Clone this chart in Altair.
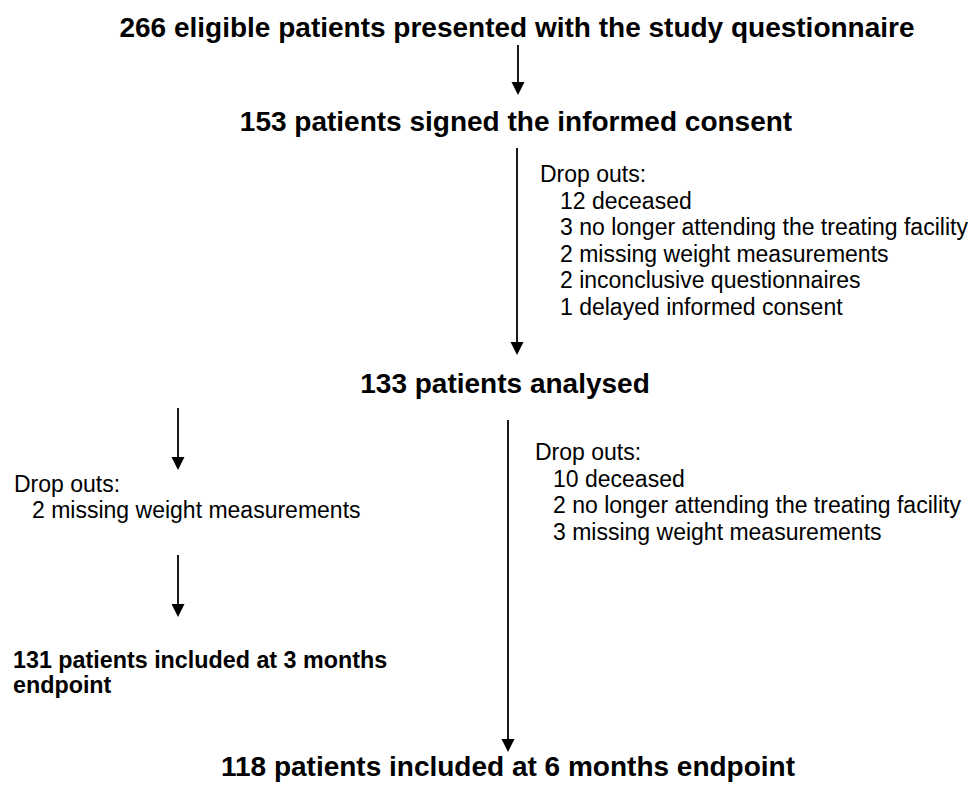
import altair as alt
import pandas as pd

# ---- content ----
headings = [
    "266 eligible patients presented with the study questionnaire",
    "153 patients signed the informed consent",
    "133 patients analysed",
    "118 patients included at 6 months endpoint",
]
left_heading = ["131 patients included at 3 months", "endpoint"]
dropout_label = "Drop outs:"
dropouts_consent = [
    "12 deceased",
    "3 no longer attending the treating facility",
    "2 missing weight measurements",
    "2 inconclusive questionnaires",
    "1 delayed informed consent",
]
dropouts_3m = ["2 missing weight measurements"]
dropouts_6m = [
    "10 deceased",
    "2 no longer attending the treating facility",
    "3 missing weight measurements",
]

# ---- layout (image pixel coordinates) ----
heading_pos = [(517, 37), (516, 131), (505, 393), (508, 776)]
left_heading_pos = (13, [668, 693])
# (label x, item x, first baseline, line step)
block_layout = [
    (dropouts_consent, 540, 560, 182, 26.6),
    (dropouts_3m, 14, 32, 492, 26.0),
    (dropouts_6m, 535, 553, 460, 26.7),
]
# (x, y start, y tip)
arrows = [(518, 45, 95), (517, 148, 355), (178, 408, 470), (178, 555, 617), (508, 420, 752)]
HEAD = 13

head_df = pd.DataFrame({
    "text": headings,
    "x": [p[0] for p in heading_pos],
    "y": [p[1] for p in heading_pos],
})
lh_df = pd.DataFrame({
    "text": left_heading,
    "x": [left_heading_pos[0]] * len(left_heading),
    "y": left_heading_pos[1],
})
rows = []
for items, lx, ix, y0, step in block_layout:
    rows.append({"text": dropout_label, "x": lx, "y": y0})
    for i, t in enumerate(items):
        rows.append({"text": t, "x": ix, "y": y0 + step * (i + 1)})
drop_df = pd.DataFrame(rows)

shaft_df = pd.DataFrame({
    "x": [a[0] for a in arrows],
    "y": [a[1] for a in arrows],
    "y2": [a[2] - HEAD + 1 for a in arrows],
})
tip_df = pd.DataFrame({
    "x": [a[0] for a in arrows],
    "y": [a[2] - HEAD / 2 for a in arrows],
})

xs = alt.Scale(domain=[8, 968], nice=False, zero=False)
ys = alt.Scale(domain=[8, 782], nice=False, zero=False, reverse=True)
X = alt.X("x:Q", scale=xs, axis=None)
Y = alt.Y("y:Q", scale=ys, axis=None)

FONT = "Liberation Sans"
INK = "#000000"

shafts = alt.Chart(shaft_df).mark_rule(color=INK, strokeWidth=1.8).encode(
    x=X, y=Y, y2="y2:Q"
)
tips = alt.Chart(tip_df).mark_point(
    shape="M-1,-1L1,-1L0,1Z", filled=True, color=INK, opacity=1, size=HEAD * HEAD
).encode(x=X, y=Y)

heads = alt.Chart(head_df).mark_text(
    font=FONT, fontSize=28, fontWeight="bold", color=INK,
    align="center", baseline="alphabetic"
).encode(x=X, y=Y, text="text:N")

lheads = alt.Chart(lh_df).mark_text(
    font=FONT, fontSize=23.3, fontWeight="bold", color=INK,
    align="left", baseline="alphabetic"
).encode(x=X, y=Y, text="text:N")

drops = alt.Chart(drop_df).mark_text(
    font=FONT, fontSize=23, color=INK,
    align="left", baseline="alphabetic"
).encode(x=X, y=Y, text="text:N")

chart = alt.layer(shafts, tips, heads, lheads, drops).properties(
    width=960, height=774,
    autosize=alt.AutoSizeParams(type="none"),
    padding=0,
    background="white",
).configure_view(stroke=None)

chart.save("out.html", embed_options={"renderer": "svg", "actions": False})
